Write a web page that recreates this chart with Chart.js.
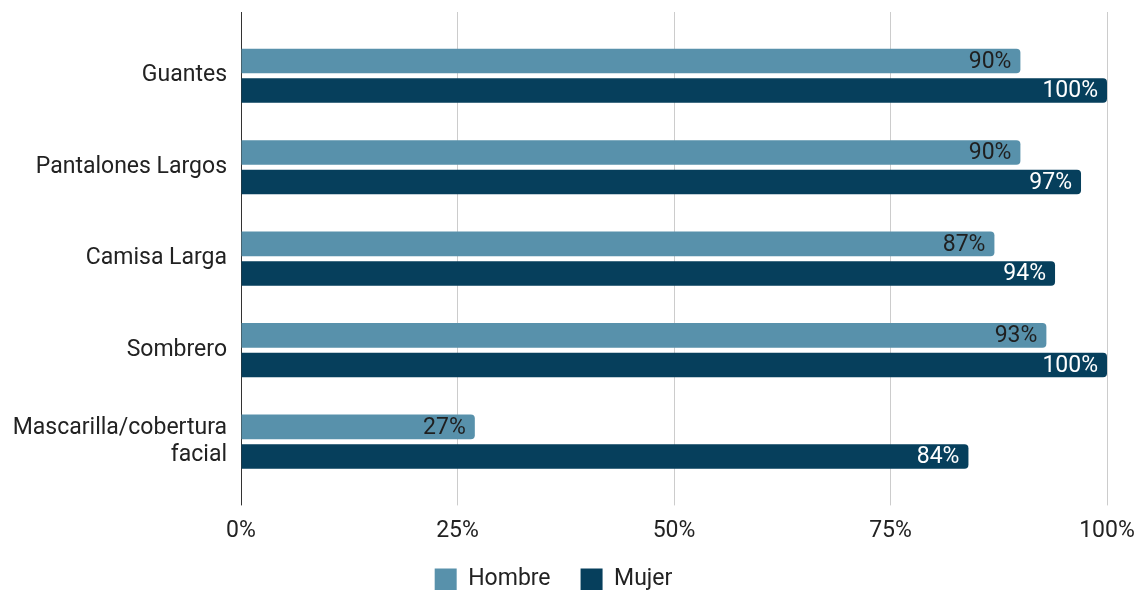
<!DOCTYPE html>
<html>
<head>
<meta charset="utf-8">
<script src="https://cdn.jsdelivr.net/npm/chart.js@4.4.1/dist/chart.umd.min.js"></script>
<style>
  html, body { margin: 0; padding: 0; background: #fff; }
  #wrap { width: 1140px; height: 590px; }
</style>
</head>
<body>
<div id="wrap"><canvas id="myChart" width="1140" height="590"></canvas></div>
<script>
var categories = ['Guantes', 'Pantalones Largos', 'Camisa Larga', 'Sombrero', ['Mascarilla/cobertura', 'facial']];
var hombre = [90, 90, 87, 93, 27];
var mujer = [100, 97, 94, 100, 84];
var xTicks = [0, 25, 50, 75, 100];

var FONT = 'Roboto, "Liberation Sans", Arial, sans-serif';
var SIZE = 23;

// value labels drawn inside the end of each bar
var barLabels = {
  id: 'barLabels',
  afterDatasetsDraw: function (chart) {
    var c = chart.ctx;
    c.save();
    c.font = SIZE + 'px ' + FONT;
    c.textAlign = 'right';
    c.textBaseline = 'middle';
    chart.data.datasets.forEach(function (ds, i) {
      var meta = chart.getDatasetMeta(i);
      c.fillStyle = i === 0 ? '#1f1f1f' : '#ffffff';
      meta.data.forEach(function (bar, j) {
        c.fillText(ds.data[j] + '%', bar.x - 9, bar.y + 1);
      });
    });
    c.restore();
  }
};

function gridColor(ctx) {
  return ctx.tick && ctx.tick.value === 0 ? '#333333' : '#cccccc';
}

function setTicks(s) {
  s.ticks = xTicks.map(function (v) { return { value: v }; });
}

// keep tick labels from pushing the plot area around
function noLabelPadding(s) {
  s.paddingTop = 0;
  s.paddingBottom = 0;
  s.paddingLeft = 0;
  s.paddingRight = 0;
}

var ctx = document.getElementById('myChart').getContext('2d');
var myChart = new Chart(ctx, {
  type: 'bar',
  data: {
    labels: categories,
    datasets: [{
      label: 'Hombre',
      data: hombre,
      backgroundColor: '#5891ab',
      borderRadius: { topRight: 4, bottomRight: 4 },
      borderSkipped: 'start',
      barPercentage: 0.83,
      categoryPercentage: 0.647
    }, {
      label: 'Mujer',
      data: mujer,
      backgroundColor: '#063f5c',
      borderRadius: { topRight: 4, bottomRight: 4 },
      borderSkipped: 'start',
      barPercentage: 0.83,
      categoryPercentage: 0.647
    }]
  },
  options: {
    indexAxis: 'y',
    responsive: false,
    animation: false,
    layout: { padding: { top: 12, right: 33, bottom: -11, left: 0 } },
    scales: {
      x: {
        min: 0,
        max: 100,
        afterBuildTicks: setTicks,
        afterFit: function (s) {
          noLabelPadding(s);
          s.height -= 19;
        },
        grid: { color: gridColor, tickColor: gridColor, tickLength: 18, lineWidth: 1 },
        border: { display: false },
        ticks: {
          color: '#222',
          font: { family: FONT, size: SIZE },
          padding: 12,
          callback: function (v) { return v + '%'; }
        }
      },
      xTop: {
        position: 'top',
        axis: 'x',
        min: 0,
        max: 100,
        afterBuildTicks: setTicks,
        afterFit: noLabelPadding,
        grid: { color: gridColor, tickColor: gridColor, tickLength: 18, drawOnChartArea: false },
        border: { display: false },
        ticks: { display: false }
      },
      y: {
        grid: { display: false },
        border: { display: false },
        afterFit: function (s) {
          noLabelPadding(s);
          s.width = 241;
        },
        ticks: {
          color: '#222',
          font: { family: FONT, size: SIZE },
          padding: 6
        }
      }
    },
    plugins: {
      legend: {
        position: 'bottom',
        labels: {
          color: '#222',
          font: { family: FONT, size: SIZE },
          boxWidth: 22,
          boxHeight: 22,
          padding: 30
        }
      },
      tooltip: { enabled: false }
    }
  },
  plugins: [barLabels]
});
</script>
</body>
</html>
